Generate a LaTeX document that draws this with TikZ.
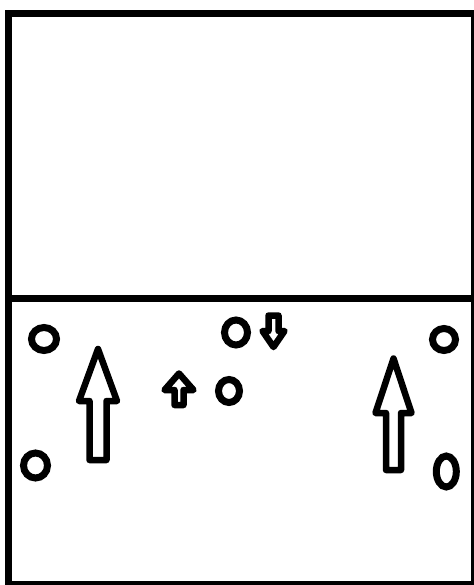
\documentclass[tikz,border=0pt]{standalone}
\begin{document}
\begin{tikzpicture}[x=1pt,y=-1pt,
  frameline/.style={line width=7pt},
  ring/.style={line width=7pt},
  arrowshape/.style={line width=6.5pt,line join=round}]
\useasboundingbox (0,0) rectangle (473,585);
% frame and divider
\draw[frameline] (8.5,13.5) rectangle (474.5,584.5);
\draw[frameline] (8.5,298) -- (474.5,298);
% rings
\draw[ring] (44,339) ellipse [x radius=12.5, y radius=11.5];
\draw[ring] (236,332.5) ellipse [x radius=11.5, y radius=12.5];
\draw[ring] (229,391) ellipse [x radius=10.5, y radius=11.5];
\draw[ring] (444,339.5) ellipse [x radius=11.5, y radius=11];
\draw[ring] (35.5,465.5) ellipse [x radius=12, y radius=12.5];
\draw[ring] (446.3,471.5) ellipse [x radius=10, y radius=15.5];
% big left arrow
\draw[arrowshape] (98,349) -- (117,401) -- (106.5,401) -- (106.5,460) -- (89.5,460) -- (89.5,401) -- (79,401) -- cycle;
% big right arrow
\draw[arrowshape] (393.5,358.5) -- (411.5,413) -- (401,413) -- (401,470) -- (386,470) -- (386,413) -- (375.5,413) -- cycle;
% small up arrow
\draw[arrowshape] (179,373.5) -- (193.5,390) -- (183.5,390) -- (183.5,405) -- (174.5,405) -- (174.5,390) -- (164.5,390) -- cycle;
% small down arrow
\draw[arrowshape] (273.5,347) -- (284.5,331) -- (278.5,331) -- (278.5,315.5) -- (268.5,315.5) -- (268.5,331) -- (262.5,331) -- cycle;
\end{tikzpicture}
\end{document}
